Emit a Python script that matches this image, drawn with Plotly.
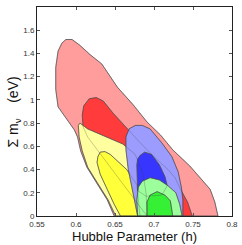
import plotly.graph_objects as go

# Contour outlines: (Hubble parameter h, sum of neutrino masses in eV)
pink_h = [0.649, 0.640, 0.626, 0.614, 0.606, 0.602, 0.598, 0.586, 0.577, 0.574, 0.574, 0.577, 0.582, 0.587,
          0.595, 0.605, 0.618, 0.633, 0.653, 0.673, 0.691, 0.708, 0.724, 0.746, 0.762, 0.772, 0.778, 0.782]
pink_m = [0.0, 0.14, 0.29, 0.42, 0.56, 0.68, 0.74, 0.85, 0.94, 1.09, 1.28, 1.42, 1.49, 1.52,
          1.52, 1.47, 1.39, 1.31, 1.11, 0.96, 0.81, 0.70, 0.57, 0.43, 0.31, 0.23, 0.12, 0.0]

red_h = [0.691, 0.682, 0.656, 0.631, 0.615, 0.609, 0.608, 0.610, 0.617, 0.626, 0.635, 0.647, 0.663,
         0.681, 0.700, 0.718, 0.727, 0.734, 0.743, 0.749]
red_m = [0.0, 0.08, 0.31, 0.53, 0.68, 0.77, 0.87, 0.95, 1.01, 1.02, 0.99, 0.89, 0.77,
         0.64, 0.51, 0.40, 0.33, 0.23, 0.12, 0.0]

lyellow_h = [0.651, 0.641, 0.627, 0.615, 0.608, 0.604, 0.603, 0.605, 0.615, 0.635, 0.660, 0.676, 0.686, 0.690, 0.691]
lyellow_m = [0.0, 0.14, 0.29, 0.42, 0.56, 0.68, 0.78, 0.80, 0.75, 0.69, 0.62, 0.53, 0.36, 0.19, 0.0]

yellow_h = [0.657, 0.649, 0.640, 0.631, 0.627, 0.628, 0.631, 0.637, 0.644, 0.665, 0.678, 0.682]
yellow_m = [0.0, 0.10, 0.23, 0.36, 0.46, 0.51, 0.55, 0.555, 0.53, 0.40, 0.27, 0.0]

lblue_h = [0.679, 0.673, 0.667, 0.664, 0.664, 0.668, 0.676, 0.685, 0.695, 0.710, 0.723, 0.731, 0.735, 0.737, 0.737]
lblue_m = [0.0, 0.19, 0.40, 0.57, 0.68, 0.75, 0.78, 0.78, 0.75, 0.63, 0.51, 0.38, 0.25, 0.14, 0.0]

blue_h = [0.679, 0.678, 0.679, 0.682, 0.688, 0.697, 0.707, 0.714, 0.717, 0.710, 0.690, 0.679]
blue_m = [0.22, 0.44, 0.49, 0.52, 0.55, 0.53, 0.44, 0.34, 0.26, 0.18, 0.17, 0.22]

lgreen_h = [0.679, 0.678, 0.680, 0.685, 0.695, 0.707, 0.718, 0.728, 0.733, 0.736]
lgreen_m = [0.0, 0.14, 0.25, 0.30, 0.33, 0.31, 0.26, 0.20, 0.10, 0.0]

green_h = [0.691, 0.691, 0.695, 0.704, 0.714, 0.721, 0.724]
green_m = [0.0, 0.12, 0.18, 0.21, 0.18, 0.13, 0.0]

x_ticks = [0.55, 0.6, 0.65, 0.7, 0.75, 0.8]
x_labels = ["0.55", "0.6", "0.65", "0.7", "0.75", "0.8"]
y_ticks = [0, 0.2, 0.4, 0.6, 0.8, 1.0, 1.2, 1.4, 1.6]
y_labels = ["0", "0.2", "0.4", "0.6", "0.8", "1", "1.2", "1.4", "1.6"]

regions = [
    (pink_h, pink_m, "#ff9c9c"),
    (red_h, red_m, "#ff3b3b"),
    (lyellow_h, lyellow_m, "#ffffa0"),
    (yellow_h, yellow_m, "#ffff3a"),
    (lblue_h, lblue_m, "#9c9cff"),
    (blue_h, blue_m, "#3636ff"),
    (lgreen_h, lgreen_m, "#9cff9c"),
    (green_h, green_m, "#36f036"),
]

fig = go.Figure()
for hx, my, col in regions:
    fig.add_trace(go.Scatter(x=hx + [hx[0]], y=my + [my[0]], mode="lines", fill="toself",
                             fillcolor=col, line=dict(color="#555555", width=0.7),
                             hoverinfo="skip", showlegend=False))
# outlines showing through
for hx, my, col in regions:
    fig.add_trace(go.Scatter(x=hx + [hx[0]], y=my + [my[0]], mode="lines",
                             line=dict(color="rgba(60,60,60,0.45)", width=0.6),
                             hoverinfo="skip", showlegend=False))

axis_common = dict(showline=True, linecolor="#222222", linewidth=1, mirror="allticks",
                   ticks="inside", ticklen=3, tickcolor="#555555", showgrid=False, zeroline=False,
                   automargin=False,
                   tickfont=dict(family="Liberation Sans", size=8, color="#333333"))

fig.update_layout(
    width=242, height=245,
    margin=dict(l=37, r=10, t=7, b=29),
    paper_bgcolor="white", plot_bgcolor="white",
    xaxis=dict(range=[0.55, 0.8], tickvals=x_ticks, ticktext=x_labels, **axis_common),
    yaxis=dict(range=[0, 1.8], tickvals=y_ticks, ticktext=y_labels, **axis_common),
    annotations=[
        dict(text="Hubble Parameter (h)", xref="paper", yref="paper", x=0.5, y=-0.096,
             showarrow=False, xanchor="center", yanchor="middle",
             font=dict(family="Liberation Sans", size=13, color="#111111")),
        dict(text="Σ m<sub>ν</sub>    (eV)", xref="paper", yref="paper", x=-0.118, y=0.50,
             showarrow=False, xanchor="center", yanchor="middle", textangle=-90,
             font=dict(family="Liberation Sans", size=14, color="#111111")),
    ],
)

fig.write_html("out.html", config={"displayModeBar": False},
               post_script="document.body.style.margin='0';")
